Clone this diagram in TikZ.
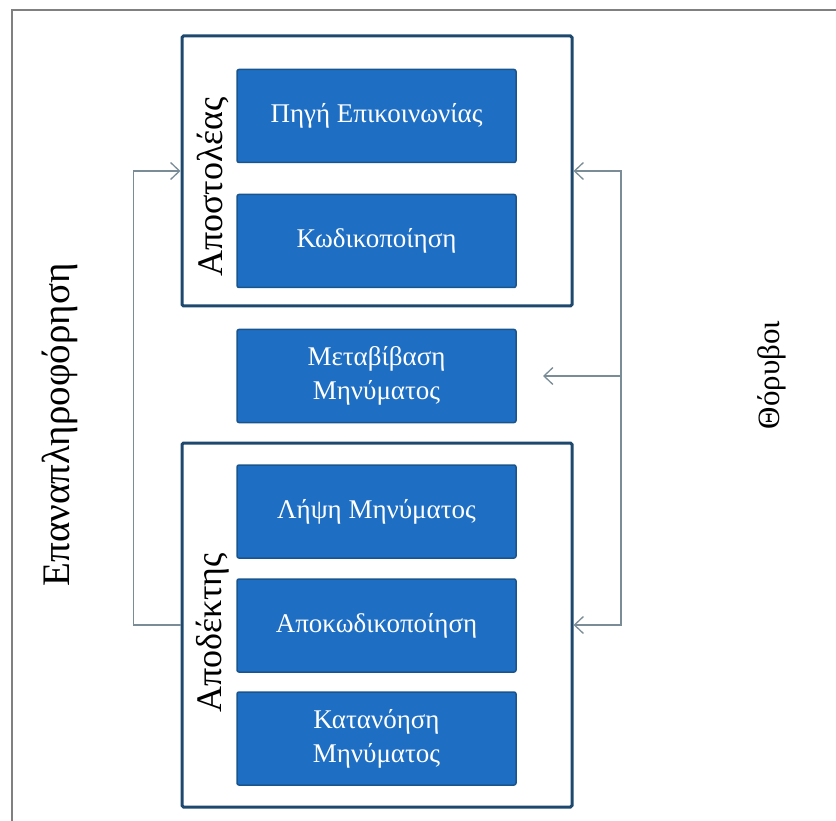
\documentclass[tikz,border=0pt]{standalone}
\usepackage{fontspec}
\setmainfont{Liberation Serif}
\usetikzlibrary{arrows.meta, positioning}

\definecolor{stageblue}{RGB}{30,111,196}
\definecolor{stageedge}{RGB}{26,84,140}
\definecolor{groupedge}{RGB}{31,72,110}
\definecolor{linkgray}{RGB}{122,140,150}
\definecolor{framegray}{RGB}{128,128,128}

\begin{document}
\begin{tikzpicture}[
    x=1pt, y=-1pt,
    stage/.style={draw=stageedge, fill=stageblue, line width=1.5pt,
                  rounded corners=2pt, text=white, align=center,
                  minimum width=279pt, minimum height=93pt, inner sep=0pt,
                  font=\fontsize{27}{34}\selectfont},
    group/.style={draw=groupedge, line width=3pt, rounded corners=1.5pt,
                  minimum width=390pt, inner sep=0pt},
    side/.style={rotate=90, font=\fontsize{36}{40}\selectfont},
    link/.style={draw=linkgray, line width=1.3pt,
                 -{Straight Barb[length=9pt, width=17pt]}},
    >=Stealth
  ]
  \useasboundingbox (0,0) rectangle (836,821);
  % frame
  \draw[framegray, line width=2.2pt] (12,821) -- (12,10) -- (836,10);

  % sender
  \node[group, minimum height=270pt] (sgrp) at (377,171) {};
  \node[stage] (src) at (376.5,116) {Πηγή Επικοινωνίας};
  \node[stage] (enc) at (376.5,241) {Κωδικοποίηση};
  \node[side] (slbl) at (213,187) {Αποστολέας};

  % channel
  \node[stage] (trn) at (376.5,376) {Μεταβίβαση\\Μηνύματος};

  % receiver
  \node[group, minimum height=364pt] (rgrp) at (377,625) {};
  \node[stage] (rcv) at (376.5,511.5) {Λήψη Μηνύματος};
  \node[stage] (dec) at (376.5,625.5) {Αποκωδικοποίηση};
  \node[stage] (und) at (376.5,738.5) {Κατανόηση\\Μηνύματος};
  \node[side] (rlbl) at (213,633) {Αποδέκτης};

  % feedback
  \draw[link] (rgrp.west) -- ++(-47,0) |- (sgrp.west);
  \node[side, font=\fontsize{39}{42}\selectfont] (fb) at (60,425) {Επαναπληροφόρηση};

  % noise
  \coordinate (nz) at (621,376);
  \coordinate (nzin) at (543,376);
  \draw[link] (nz) |- (sgrp.east);
  \draw[link] (nz) |- (rgrp.east);
  \draw[link] (nz) -- (nzin);
  \node[side, font=\fontsize{31}{34}\selectfont] (nlbl) at (772,375) {Θόρυβοι};
\end{tikzpicture}
\end{document}
